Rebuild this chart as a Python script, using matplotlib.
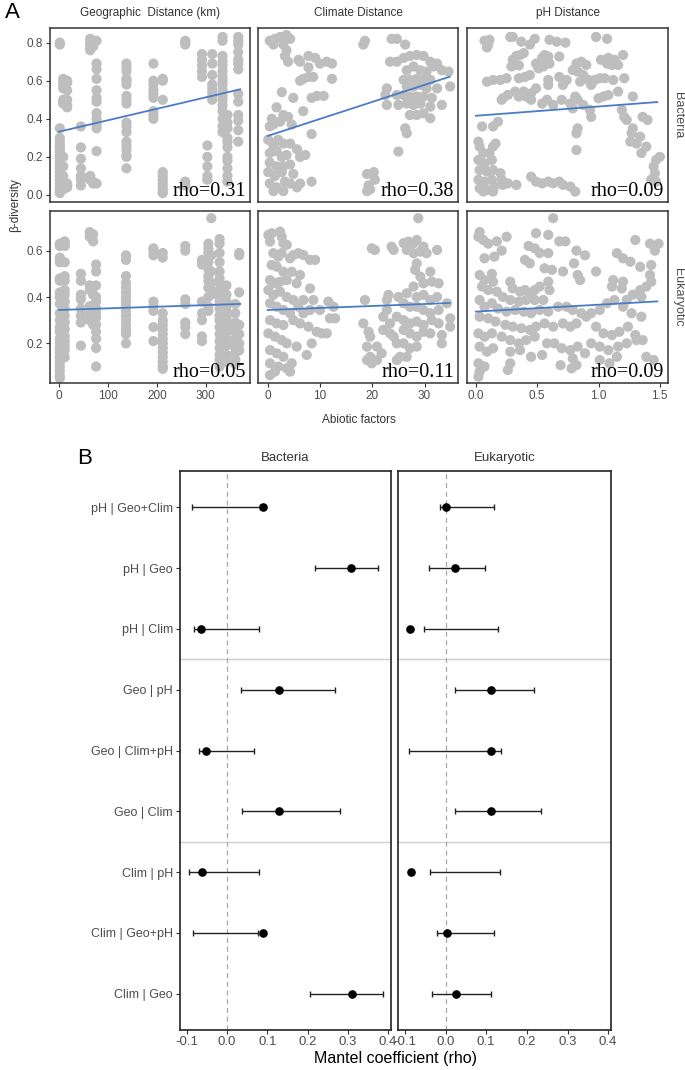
import numpy as np
import matplotlib
matplotlib.use("Agg")
import matplotlib.pyplot as plt

plt.rcParams['font.family'] = ['Liberation Sans', 'DejaVu Sans']

W, H = 685, 1070

# ---------------- Panel A data ----------------
# geographic distance: points sit in columns -> (x, [beta values])
geo_bac_cols = [
    (2, [0.80, 0.79, 0.35, 0.30, 0.28, 0.26, 0.25, 0.23, 0.22, 0.20, 0.18, 0.16, 0.14, 0.12, 0.10, 0.08, 0.06, 0.04, 0.02, 0.01]),
    (9, [0.61, 0.60, 0.58, 0.56, 0.50, 0.49, 0.48, 0.20, 0.15, 0.10, 0.07, 0.05, 0.03]),
    (17, [0.60, 0.59, 0.55, 0.50, 0.47, 0.46, 0.06, 0.05, 0.04]),
    (45, [0.36, 0.25, 0.19, 0.14, 0.10, 0.08, 0.05]),
    (64, [0.82, 0.80, 0.79, 0.77, 0.76, 0.10, 0.08]),
    (70, [0.81, 0.78, 0.07, 0.06]),
    (77, [0.81, 0.69, 0.66, 0.61, 0.55, 0.51, 0.49, 0.43, 0.40, 0.37, 0.35, 0.23, 0.06]),
    (138, [0.69, 0.67, 0.65, 0.61, 0.60, 0.58, 0.52, 0.50, 0.48, 0.38, 0.36, 0.33, 0.28, 0.26, 0.24, 0.21, 0.20, 0.14]),
    (193, [0.69, 0.60, 0.58, 0.55, 0.53, 0.51, 0.44, 0.42, 0.40]),
    (212, [0.61, 0.60, 0.50, 0.12, 0.10, 0.08, 0.06, 0.04, 0.02, 0.01]),
    (258, [0.81, 0.80, 0.79, 0.07, 0.05]),
    (292, [0.74, 0.71, 0.68, 0.65, 0.62]),
    (303, [0.26, 0.20, 0.15, 0.10, 0.08]),
    (313, [0.74, 0.69, 0.63, 0.58, 0.56, 0.54, 0.52, 0.50]),
    (334, [0.83, 0.81, 0.73, 0.70, 0.68, 0.65, 0.62, 0.60, 0.58, 0.55, 0.52, 0.50, 0.47, 0.44, 0.40, 0.36, 0.33]),
    (344, [0.42, 0.38, 0.35, 0.30, 0.28, 0.25, 0.20, 0.18, 0.14, 0.10, 0.07]),
    (366, [0.83, 0.81, 0.79, 0.75, 0.71, 0.69, 0.66, 0.53, 0.49, 0.42, 0.39, 0.34, 0.28]),
]

geo_euk_cols = [
    (2, [0.63, 0.62, 0.57, 0.55, 0.48, 0.47, 0.42, 0.40, 0.37, 0.33, 0.30, 0.27, 0.25, 0.22, 0.20, 0.18, 0.16, 0.14, 0.12, 0.10, 0.08, 0.06, 0.05]),
    (12, [0.64, 0.63, 0.62, 0.55, 0.49, 0.47, 0.43, 0.41, 0.38, 0.35, 0.32, 0.29, 0.26, 0.23, 0.21, 0.19, 0.17, 0.14]),
    (45, [0.50, 0.47, 0.41, 0.39, 0.35, 0.32, 0.29, 0.19]),
    (63, [0.68, 0.66, 0.45, 0.43, 0.36, 0.33, 0.30]),
    (70, [0.67, 0.64, 0.44, 0.41, 0.35, 0.32, 0.30, 0.28]),
    (76, [0.54, 0.51, 0.45, 0.40, 0.38, 0.35, 0.33, 0.31, 0.28, 0.25, 0.22, 0.18, 0.10]),
    (137, [0.58, 0.56, 0.49, 0.46, 0.44, 0.42, 0.40, 0.38, 0.36, 0.34, 0.32, 0.30, 0.28, 0.26, 0.24, 0.20]),
    (193, [0.61, 0.60, 0.58, 0.38, 0.36, 0.34, 0.27, 0.21]),
    (212, [0.59, 0.57, 0.33, 0.30, 0.28, 0.26, 0.24, 0.22, 0.20, 0.18, 0.16, 0.14, 0.12, 0.10, 0.09]),
    (258, [0.62, 0.60, 0.39, 0.37, 0.29, 0.27, 0.24]),
    (292, [0.56, 0.54, 0.38, 0.33, 0.30, 0.23, 0.21]),
    (305, [0.63, 0.61, 0.59, 0.55, 0.52, 0.49, 0.47, 0.44, 0.40, 0.36, 0.34]),
    (311, [0.74, 0.58, 0.51, 0.46, 0.43, 0.41]),
    (328, [0.65, 0.63, 0.59, 0.55, 0.51, 0.48, 0.46, 0.43, 0.40, 0.38, 0.35, 0.32, 0.30, 0.27, 0.24, 0.21, 0.18, 0.15, 0.13, 0.10]),
    (342, [0.45, 0.41, 0.38, 0.36, 0.34, 0.31, 0.29, 0.27, 0.25, 0.22, 0.19, 0.15, 0.12]),
    (360, [0.37, 0.33, 0.29, 0.27, 0.25, 0.22, 0.20, 0.18, 0.16, 0.13, 0.11]),
    (368, [0.59, 0.58, 0.42, 0.28, 0.24, 0.20, 0.17]),
]

# climate distance vs beta-diversity, (x, y)
clim_bac = [
    (0.4, 0.81), (1.4, 0.82), (2.4, 0.83), (3.6, 0.84), (4.3, 0.82), (1.1, 0.79), (3.0, 0.79), (3.6, 0.76),
    (3.3, 0.73), (3.9, 0.70), (5.9, 0.71), (6.2, 0.70), (7.8, 0.73), (9.1, 0.72), (10.0, 0.69), (11.3, 0.70),
    (12.3, 0.69), (7.8, 0.67), (6.8, 0.61), (7.8, 0.62), (8.7, 0.62), (6.2, 0.60), (12.3, 0.61), (8.4, 0.51),
    (9.4, 0.52), (10.7, 0.52), (2.7, 0.54), (4.9, 0.51), (1.7, 0.46), (6.8, 0.44), (3.9, 0.41), (3.0, 0.42),
    (0.8, 0.40), (2.4, 0.385), (1.1, 0.37), (0.4, 0.36), (4.6, 0.37), (8.4, 0.32), (0.1, 0.29), (1.1, 0.26),
    (2.0, 0.29), (3.0, 0.27), (4.3, 0.27), (0.4, 0.22), (1.7, 0.23), (2.7, 0.20), (3.6, 0.21), (5.6, 0.24),
    (6.2, 0.20), (0.4, 0.17), (1.7, 0.15), (3.0, 0.15), (4.3, 0.16), (7.2, 0.21), (0.1, 0.12), (1.4, 0.10),
    (2.7, 0.12), (4.9, 0.11), (0.4, 0.06), (1.7, 0.04), (3.3, 0.07), (4.3, 0.06), (6.2, 0.06), (8.4, 0.07),
    (1.1, 0.02), (3.0, 0.02), (5.6, 0.04),
    (19.0, 0.11), (20.3, 0.12), (20.5, 0.08), (19.3, 0.05), (19.0, 0.02), (19.6, 0.03),
    (18.6, 0.81), (18.3, 0.79), (23.7, 0.82), (24.7, 0.82), (26.3, 0.79),
    (23.4, 0.70), (24.7, 0.70), (26.0, 0.72), (27.2, 0.73), (28.5, 0.735), (29.8, 0.73), (31.1, 0.70),
    (32.4, 0.69), (26.6, 0.655), (27.9, 0.675), (29.2, 0.655), (30.4, 0.648), (31.7, 0.675), (33.3, 0.655),
    (34.6, 0.648), (26.0, 0.605), (27.2, 0.605), (28.5, 0.61), (29.8, 0.605), (31.1, 0.605), (26.6, 0.57),
    (27.9, 0.57), (29.2, 0.578), (30.4, 0.56), (32.4, 0.56), (34.9, 0.57), (22.8, 0.56), (22.5, 0.525),
    (24.7, 0.525), (26.0, 0.525), (27.2, 0.517), (28.5, 0.517), (29.8, 0.517), (31.4, 0.51), (22.8, 0.473),
    (25.0, 0.473), (26.6, 0.48), (27.9, 0.473), (29.2, 0.48), (31.1, 0.464), (33.3, 0.473), (27.2, 0.42),
    (28.5, 0.42), (29.8, 0.429), (31.1, 0.403), (26.3, 0.35), (26.6, 0.324), (25.0, 0.228),
]

clim_euk = [
    (0.13, 0.668), (0.77, 0.675), (0.45, 0.639), (2.36, 0.682), (2.68, 0.66), (3.0, 0.632), (3.64, 0.625),
    (1.08, 0.589), (2.04, 0.574), (2.68, 0.589), (4.28, 0.567), (4.91, 0.581), (5.87, 0.589), (6.83, 0.581),
    (8.1, 0.56), (9.06, 0.56), (0.77, 0.538), (1.72, 0.531), (3.0, 0.509), (4.6, 0.509), (6.19, 0.495),
    (0.45, 0.473), (1.40, 0.459), (2.36, 0.466), (3.64, 0.473), (5.55, 0.459), (8.1, 0.437), (0.13, 0.43),
    (1.08, 0.409), (2.36, 0.423), (3.64, 0.40), (4.91, 0.387), (6.83, 0.387), (8.74, 0.387), (11.6, 0.38),
    (12.6, 0.358), (0.45, 0.373), (1.72, 0.358), (3.0, 0.344), (4.28, 0.33), (5.87, 0.358), (6.83, 0.33),
    (8.1, 0.344), (10.0, 0.344), (11.9, 0.308), (12.9, 0.308), (0.45, 0.30), (1.72, 0.286), (3.0, 0.279),
    (4.91, 0.30), (6.19, 0.286), (7.79, 0.272), (9.38, 0.25), (10.3, 0.243), (11.3, 0.243), (0.13, 0.243),
    (1.40, 0.229), (2.68, 0.214), (3.64, 0.20), (5.55, 0.186), (7.47, 0.15), (8.42, 0.20), (0.45, 0.171),
    (1.72, 0.157), (3.0, 0.142), (4.6, 0.114), (0.45, 0.114), (2.04, 0.10), (3.64, 0.092), (0.45, 0.063),
    (1.40, 0.078), (4.28, 0.078),
    (18.6, 0.387), (18.3, 0.286), (19.3, 0.25), (19.9, 0.61), (20.5, 0.603), (19.6, 0.229), (19.0, 0.128),
    (19.9, 0.114), (20.9, 0.186), (21.8, 0.157), (22.8, 0.387), (23.1, 0.409), (22.8, 0.344), (23.7, 0.617),
    (24.1, 0.603), (22.1, 0.315), (23.4, 0.286), (24.1, 0.229), (24.7, 0.20), (25.3, 0.142), (25.0, 0.40),
    (26.0, 0.373), (26.6, 0.416), (26.0, 0.632), (26.9, 0.639), (27.9, 0.632), (28.8, 0.74), (26.6, 0.603),
    (27.9, 0.589), (29.2, 0.596), (30.4, 0.589), (32.4, 0.603), (28.5, 0.646), (29.8, 0.617), (28.5, 0.545),
    (28.2, 0.517), (29.2, 0.488), (29.8, 0.459), (31.1, 0.509), (31.4, 0.466), (32.7, 0.459), (27.9, 0.445),
    (28.5, 0.40), (29.8, 0.409), (31.1, 0.387), (32.4, 0.40), (34.3, 0.373), (27.2, 0.358), (28.5, 0.358),
    (29.8, 0.344), (31.1, 0.33), (32.7, 0.344), (34.9, 0.308), (34.9, 0.272), (24.7, 0.315), (26.0, 0.30),
    (27.2, 0.286), (28.5, 0.294), (29.8, 0.279), (31.4, 0.30), (32.7, 0.286), (26.0, 0.258), (27.2, 0.243),
    (28.5, 0.229), (29.8, 0.25), (31.1, 0.243), (33.3, 0.236), (33.3, 0.20), (26.0, 0.20), (27.2, 0.179),
    (28.5, 0.186), (22.1, 0.258), (23.4, 0.243), (26.6, 0.142), (24.7, 0.128), (20.9, 0.128), (19.6, 0.142),
    (19.0, 0.186),
]

# pH distance vs beta-diversity, (x, y)
ph_bac = [
    (0.07, 0.81), (0.10, 0.79), (0.11, 0.815), (0.09, 0.775), (0.28, 0.83), (0.30, 0.83), (0.37, 0.805),
    (0.44, 0.79), (0.48, 0.82), (0.60, 0.815), (0.66, 0.805), (0.73, 0.80), (0.98, 0.83), (1.07, 0.82),
    (0.30, 0.71), (0.33, 0.73), (0.36, 0.735), (0.39, 0.745), (0.35, 0.68), (0.29, 0.675), (0.49, 0.69),
    (0.54, 0.72), (0.56, 0.735), (0.59, 0.727), (0.51, 0.665), (0.55, 0.675), (0.60, 0.69), (0.68, 0.727),
    (0.82, 0.69), (0.86, 0.70), (0.90, 0.683), (1.02, 0.71), (1.08, 0.72), (1.13, 0.71), (1.20, 0.735),
    (1.16, 0.683), (1.11, 0.683), (1.07, 0.69), (0.79, 0.656), (0.83, 0.648), (0.875, 0.63), (0.92, 0.604),
    (0.94, 0.578), (0.97, 0.604), (1.01, 0.613), (1.05, 0.613), (1.12, 0.604), (1.21, 0.613), (0.85, 0.595),
    (0.09, 0.595), (0.14, 0.604), (0.20, 0.604), (0.25, 0.613), (0.35, 0.613), (0.40, 0.62), (0.44, 0.63),
    (0.59, 0.604), (0.68, 0.62), (0.74, 0.604), (0.71, 0.578), (0.59, 0.578),
    (0.22, 0.508), (0.21, 0.50), (0.26, 0.525), (0.32, 0.543), (0.35, 0.517), (0.39, 0.543), (0.41, 0.517),
    (0.45, 0.534), (0.49, 0.56), (0.45, 0.50), (0.54, 0.48), (0.58, 0.50), (0.63, 0.473), (0.70, 0.50),
    (0.77, 0.48), (0.81, 0.517), (0.83, 0.50), (0.875, 0.473), (0.93, 0.447), (0.94, 0.41), (0.79, 0.455),
    (1.00, 0.508), (1.04, 0.517), (1.08, 0.525), (1.16, 0.543), (1.19, 0.447), (1.21, 0.41), (1.28, 0.517),
    (1.36, 0.41), (1.40, 0.394), (1.23, 0.394),
    (0.05, 0.36), (0.14, 0.36), (0.18, 0.385), (0.83, 0.35), (0.82, 0.324), (0.82, 0.236), (1.28, 0.35),
    (1.27, 0.324), (1.34, 0.306), (1.26, 0.28), (1.31, 0.27), (1.39, 0.254), (1.35, 0.22), (1.50, 0.20),
    (1.47, 0.184), (1.45, 0.15), (1.46, 0.114), (1.43, 0.08), (1.47, 0.07),
    (0.02, 0.28), (0.03, 0.254), (0.06, 0.22), (0.11, 0.22), (0.14, 0.254), (0.16, 0.27), (0.02, 0.184),
    (0.07, 0.166), (0.13, 0.184), (0.03, 0.131), (0.09, 0.123), (0.14, 0.131), (0.02, 0.08), (0.07, 0.07),
    (0.13, 0.08), (0.20, 0.114), (0.21, 0.08), (0.03, 0.035), (0.09, 0.026), (0.15, 0.044), (0.22, 0.053),
    (0.26, 0.061), (0.33, 0.053), (0.45, 0.096), (0.49, 0.07), (0.54, 0.061), (0.59, 0.07), (0.63, 0.061),
    (0.68, 0.07), (0.71, 0.053), (0.77, 0.044), (0.81, 0.018), (0.06, 0.018), (0.14, 0.018),
]

ph_euk = [
    (0.03, 0.68), (0.02, 0.66), (0.06, 0.646), (0.10, 0.63), (0.17, 0.64), (0.25, 0.66), (0.21, 0.60),
    (0.15, 0.574), (0.07, 0.567), (0.49, 0.675), (0.59, 0.668), (0.63, 0.74), (0.68, 0.64), (0.73, 0.64),
    (0.43, 0.62), (0.48, 0.61), (0.52, 0.59), (0.59, 0.589), (0.40, 0.56), (0.44, 0.545), (0.56, 0.524),
    (0.62, 0.517), (0.71, 0.51), (0.82, 0.60), (0.89, 0.58), (0.80, 0.545), (0.83, 0.495), (0.85, 0.473),
    (0.98, 0.51), (1.15, 0.589), (1.20, 0.567), (1.26, 0.552), (1.30, 0.646), (1.42, 0.63), (1.49, 0.63),
    (1.46, 0.60), (1.43, 0.538), (1.34, 0.53), (1.12, 0.473), (1.20, 0.466), (1.42, 0.495), (1.43, 0.466),
    (1.39, 0.445), (1.34, 0.43), (1.28, 0.41), (1.35, 0.40), (1.23, 0.387), (1.19, 0.437), (1.11, 0.445),
    (0.03, 0.495), (0.07, 0.473), (0.13, 0.50), (0.14, 0.466), (0.05, 0.445), (0.10, 0.43), (0.17, 0.423),
    (0.22, 0.40), (0.28, 0.466), (0.30, 0.437), (0.36, 0.423), (0.40, 0.43), (0.44, 0.416), (0.48, 0.43),
    (0.52, 0.445), (0.59, 0.466), (0.60, 0.43), (0.55, 0.387), (0.48, 0.387), (0.41, 0.387), (0.35, 0.38),
    (0.28, 0.387), (0.03, 0.387), (0.07, 0.358), (0.13, 0.373), (0.18, 0.35), (0.25, 0.337), (0.32, 0.344),
    (0.39, 0.337), (0.45, 0.33), (0.52, 0.344), (0.59, 0.337), (0.67, 0.358), (0.74, 0.358), (0.79, 0.344),
    (0.86, 0.33), (0.03, 0.315), (0.10, 0.308), (0.16, 0.294), (0.24, 0.28), (0.30, 0.272), (0.37, 0.265),
    (0.44, 0.258), (0.49, 0.272), (0.56, 0.286), (0.63, 0.272), (0.71, 0.286), (0.77, 0.272), (0.82, 0.286),
    (0.90, 0.315), (0.94, 0.33), (1.01, 0.344), (1.07, 0.373), (1.13, 0.387), (1.20, 0.358), (1.27, 0.33),
    (1.35, 0.315), (0.98, 0.272), (1.04, 0.243), (1.11, 0.236), (1.17, 0.25), (1.24, 0.272), (1.30, 0.236),
    (1.36, 0.214), (0.94, 0.20), (1.01, 0.186), (1.08, 0.171), (1.16, 0.186), (1.23, 0.20), (1.31, 0.214),
    (0.02, 0.243), (0.07, 0.229), (0.13, 0.243), (0.03, 0.186), (0.09, 0.164), (0.14, 0.179), (0.21, 0.229),
    (0.28, 0.214), (0.35, 0.20), (0.41, 0.214), (0.48, 0.229), (0.58, 0.20), (0.64, 0.20), (0.70, 0.179),
    (0.77, 0.171), (0.83, 0.186), (0.89, 0.157), (0.54, 0.15), (0.45, 0.142), (0.36, 0.171), (0.28, 0.164),
    (0.69, 0.106), (0.79, 0.135), (0.78, 0.092), (0.82, 0.106), (1.01, 0.128), (1.09, 0.114), (1.15, 0.142),
    (1.39, 0.142), (1.45, 0.128), (0.02, 0.114), (0.03, 0.078), (0.02, 0.056), (0.07, 0.10), (0.28, 0.114),
    (0.26, 0.085),
]

# fitted line end points (x0, x1), (y0, y1)
bac_fits = [((0, 370), (0.332, 0.555)), ((0, 34.8), (0.310, 0.621)), ((0, 1.48), (0.416, 0.488))]
euk_fits = [((0, 370), (0.344, 0.370)), ((0, 34.8), (0.344, 0.374)), ((0, 1.48), (0.337, 0.381))]
bac_rho_txt = ["rho=0.31", "rho=0.38", "rho=0.09"]
euk_rho_txt = ["rho=0.05", "rho=0.11", "rho=0.09"]

col_titles = ["Geographic  Distance (km)", "Climate Distance", "pH Distance"]
row_titles = ["Bacteria", "Eukaryotic"]
xlims = [(-18, 390), (-1.85, 36.4), (-0.073, 1.567)]
xticks = [[0, 100, 200, 300], [0, 10, 20, 30], [0.0, 0.5, 1.0, 1.5]]
xticklabels = [["0", "100", "200", "300"], ["0", "10", "20", "30"], ["0.0", "0.5", "1.0", "1.5"]]

# ---------------- Panel B data ----------------
terms = ["pH | Geo+Clim", "pH | Geo", "pH | Clim", "Geo | pH", "Geo | Clim+pH",
         "Geo | Clim", "Clim | pH", "Clim | Geo+pH", "Clim | Geo"]
bac_rho = [0.089, 0.308, -0.064, 0.129, -0.052, 0.129, -0.062, 0.090, 0.310]
bac_lo = [-0.087, 0.219, -0.083, 0.035, -0.070, 0.037, -0.094, -0.085, 0.207]
bac_hi = [0.081, 0.375, 0.079, 0.267, 0.068, 0.280, 0.080, 0.077, 0.386]
euk_rho = [0.002, 0.024, -0.088, 0.113, 0.112, 0.113, -0.086, 0.004, 0.026]
euk_lo = [-0.014, -0.041, -0.052, 0.022, -0.091, 0.022, -0.038, -0.022, -0.034]
euk_hi = [0.118, 0.097, 0.128, 0.217, 0.137, 0.235, 0.134, 0.118, 0.112]
group_breaks = [3.5, 6.5]


def expand(cols):
    xs, ys = [], []
    for x, vals in cols:
        xs += [x] * len(vals)
        ys += vals
    return xs, ys


def axes_px(fig, l, t, r, b):
    return fig.add_axes([l / W, 1 - b / H, (r - l) / W, (b - t) / H])


GRAY_TXT = "#4d4d4d"
PT_COL = "#bebebe"
LINE_COL = "#4a7cc6"

fig = plt.figure(figsize=(W / 100, H / 100), dpi=100)

col_px = [(50, 250), (258, 458), (467, 668)]
row_px = [(28, 202), (211, 383)]
row_ylims = [(-0.037, 0.877), (0.029, 0.771)]
row_yticks = [[0.0, 0.2, 0.4, 0.6, 0.8], [0.2, 0.4, 0.6]]

bac_data = [expand(geo_bac_cols), tuple(zip(*clim_bac)), tuple(zip(*ph_bac))]
euk_data = [expand(geo_euk_cols), tuple(zip(*clim_euk)), tuple(zip(*ph_euk))]

for r, (data, fits, rtxt) in enumerate([(bac_data, bac_fits, bac_rho_txt),
                                        (euk_data, euk_fits, euk_rho_txt)]):
    for c in range(3):
        ax = axes_px(fig, col_px[c][0], row_px[r][0], col_px[c][1], row_px[r][1])
        xs, ys = data[c]
        ax.scatter(xs, ys, s=54, color=PT_COL, edgecolors='none', zorder=1)
        ax.plot(fits[c][0], fits[c][1], color=LINE_COL, lw=1.3, zorder=2)
        ax.text(0.982, 0.035, rtxt[c], transform=ax.transAxes, ha='right', va='baseline',
                fontsize=14.5, family=['Liberation Serif', 'DejaVu Serif'], zorder=3)
        ax.set_xlim(*xlims[c])
        ax.set_ylim(*row_ylims[r])
        ax.set_xticks(xticks[c])
        ax.set_yticks(row_yticks[r])
        ax.tick_params(length=3, width=0.8, color='#333333', labelsize=8.5,
                       labelcolor=GRAY_TXT, pad=2)
        if r == 1:
            ax.set_xticklabels(xticklabels[c])
        else:
            ax.tick_params(axis='x', length=0, labelbottom=False)
        if c != 0:
            ax.tick_params(axis='y', length=0, labelleft=False)
        for sp in ax.spines.values():
            sp.set_color('#333333')
            sp.set_linewidth(1.1)
        if r == 0:
            fig.text(sum(col_px[c]) / 2 / W, 1 - 13 / H, col_titles[c], ha='center', va='center',
                     fontsize=8.5, color='#333333')
    fig.text(678 / W, 1 - sum(row_px[r]) / 2 / H, row_titles[r], rotation=-90,
             ha='center', va='center', fontsize=9, color=GRAY_TXT)

fig.text(15 / W, 1 - 205 / H, "β-diversity", rotation=90, ha='center', va='center',
         fontsize=8.5, color='#333333')
fig.text(359 / W, 1 - 420 / H, "Abiotic factors", ha='center', va='center',
         fontsize=8.5, color='#333333')
fig.text(5 / W, 1 - 13 / H, "A", ha='left', va='center', fontsize=16)
fig.text(77 / W, 1 - 458 / H, "B", ha='left', va='center', fontsize=16)

# ---------------- Panel B ----------------
ypos = np.arange(len(terms))[::-1] + 1
b_px = [(180, 391), (398, 611)]
b_titles = ["Bacteria", "Eukaryotic"]
for i, (rho, lo, hi) in enumerate([(bac_rho, bac_lo, bac_hi), (euk_rho, euk_lo, euk_hi)]):
    ax = axes_px(fig, b_px[i][0], 471, b_px[i][1], 1030)
    lo = np.array(lo)
    hi = np.array(hi)
    for yb in group_breaks:
        ax.axhline(yb, color='#cfcfcf', lw=1.0, zorder=0)
    ax.axvline(0, color='#a8a8a8', lw=0.9, ls=(0, (4, 3)), zorder=0)
    ax.errorbar((lo + hi) / 2, ypos, xerr=(hi - lo) / 2, fmt='none', ecolor='#222222',
                elinewidth=1.0, capsize=2.2, capthick=1.0, zorder=2)
    ax.plot(rho, ypos, 'o', color='black', ms=5.2, zorder=3)
    ax.set_xlim(-0.117, 0.407)
    ax.set_ylim(0.4, len(terms) + 0.6)
    ax.set_xticks([-0.1, 0.0, 0.1, 0.2, 0.3, 0.4])
    ax.set_xticklabels(["-0.1", "0.0", "0.1", "0.2", "0.3", "0.4"])
    ax.tick_params(axis='x', length=3, width=0.8, color='#333333', labelsize=9.5,
                   labelcolor=GRAY_TXT, pad=1.5)
    if i == 0:
        ax.set_yticks(ypos)
        ax.set_yticklabels(terms)
        ax.tick_params(axis='y', length=3, width=0.8, color='#333333', labelsize=9,
                       labelcolor=GRAY_TXT, pad=2)
    else:
        ax.set_yticks([])
    for sp in ax.spines.values():
        sp.set_color('#222222')
        sp.set_linewidth(1.2)
    fig.text(sum(b_px[i]) / 2 / W, 1 - 458 / H, b_titles[i], ha='center', va='center',
             fontsize=9.5, color='#333333')

fig.text(396 / W, 1 - 1059 / H, "Mantel coefficient (rho)", ha='center', va='center',
         fontsize=11.5, color='black')

fig.savefig("out.png", dpi=100)
